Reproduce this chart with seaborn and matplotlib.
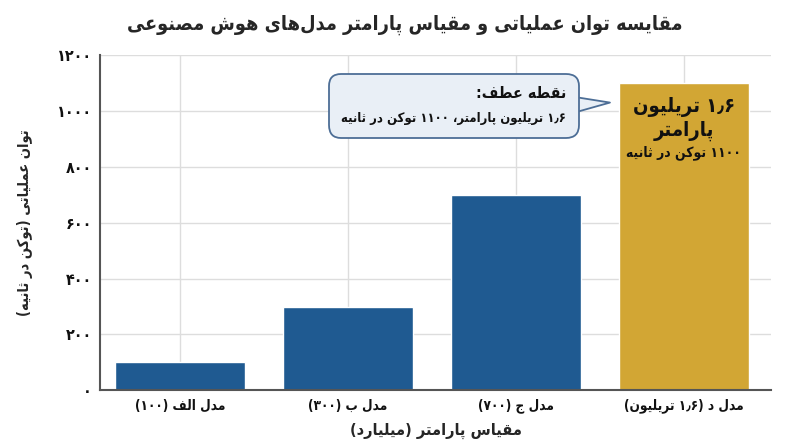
import re
import matplotlib
matplotlib.use("Agg")
import matplotlib.pyplot as plt
from matplotlib.offsetbox import TextArea, VPacker, AnnotationBbox
import seaborn as sns
import pandas as pd

# ---------------- data ----------------
categories = ["مدل الف (۱۰۰)", "مدل ب (۳۰۰)", "مدل ج (۷۰۰)", "مدل د (۱٫۶ تریلیون)"]
throughput = [100, 300, 700, 1100]
y_ticks = [0, 200, 400, 600, 800, 1000, 1200]
title_text = "مقایسه توان عملیاتی و مقیاس پارامتر مدل‌های هوش مصنوعی"
xlabel_text = "مقیاس پارامتر (میلیارد)"
ylabel_text = "توان عملیاتی (توکن در ثانیه)"
callout_title = "نقطه عطف:"
callout_body = "۱٫۶ تریلیون پارامتر، ۱۱۰۰ توکن در ثانیه"
bar_label_lines = ["۱٫۶ تریلیون", "پارامتر", "۱۱۰۰ توکن در ثانیه"]

# ---------------- minimal Arabic/Persian shaping + RTL ordering ----------------
FORMS = {  # isolated, final, initial, medial
    '\u0627': ('\uFE8D', '\uFE8E', None, None),
    '\u0622': ('\uFE81', '\uFE82', None, None),
    '\u0628': ('\uFE8F', '\uFE90', '\uFE91', '\uFE92'),
    '\u067E': ('\uFB56', '\uFB57', '\uFB58', '\uFB59'),
    '\u062A': ('\uFE95', '\uFE96', '\uFE97', '\uFE98'),
    '\u062B': ('\uFE99', '\uFE9A', '\uFE9B', '\uFE9C'),
    '\u062C': ('\uFE9D', '\uFE9E', '\uFE9F', '\uFEA0'),
    '\u0686': ('\uFB7A', '\uFB7B', '\uFB7C', '\uFB7D'),
    '\u062D': ('\uFEA1', '\uFEA2', '\uFEA3', '\uFEA4'),
    '\u062E': ('\uFEA5', '\uFEA6', '\uFEA7', '\uFEA8'),
    '\u062F': ('\uFEA9', '\uFEAA', None, None),
    '\u0630': ('\uFEAB', '\uFEAC', None, None),
    '\u0631': ('\uFEAD', '\uFEAE', None, None),
    '\u0632': ('\uFEAF', '\uFEB0', None, None),
    '\u0698': ('\uFB8A', '\uFB8B', None, None),
    '\u0633': ('\uFEB1', '\uFEB2', '\uFEB3', '\uFEB4'),
    '\u0634': ('\uFEB5', '\uFEB6', '\uFEB7', '\uFEB8'),
    '\u0635': ('\uFEB9', '\uFEBA', '\uFEBB', '\uFEBC'),
    '\u0636': ('\uFEBD', '\uFEBE', '\uFEBF', '\uFEC0'),
    '\u0637': ('\uFEC1', '\uFEC2', '\uFEC3', '\uFEC4'),
    '\u0638': ('\uFEC5', '\uFEC6', '\uFEC7', '\uFEC8'),
    '\u0639': ('\uFEC9', '\uFECA', '\uFECB', '\uFECC'),
    '\u063A': ('\uFECD', '\uFECE', '\uFECF', '\uFED0'),
    '\u0641': ('\uFED1', '\uFED2', '\uFED3', '\uFED4'),
    '\u0642': ('\uFED5', '\uFED6', '\uFED7', '\uFED8'),
    '\u06A9': ('\uFB8E', '\uFB8F', '\uFB90', '\uFB91'),
    '\u06AF': ('\uFB92', '\uFB93', '\uFB94', '\uFB95'),
    '\u0644': ('\uFEDD', '\uFEDE', '\uFEDF', '\uFEE0'),
    '\u0645': ('\uFEE1', '\uFEE2', '\uFEE3', '\uFEE4'),
    '\u0646': ('\uFEE5', '\uFEE6', '\uFEE7', '\uFEE8'),
    '\u0648': ('\uFEED', '\uFEEE', None, None),
    '\u0647': ('\uFEE9', '\uFEEA', '\uFEEB', '\uFEEC'),
    '\u06CC': ('\uFBFC', '\uFBFD', '\uFBFE', '\uFBFF'),
    '\u0629': ('\uFE93', '\uFE94', None, None),
}


def _dual(c):
    return c in FORMS and FORMS[c][2] is not None


def shape(s):
    out = []
    n = len(s)
    i = 0
    while i < n:
        c = s[i]
        if c not in FORMS:
            if c != '\u200c':
                out.append(c)
            i += 1
            continue
        prev = s[i - 1] if i > 0 else ''
        nxt = s[i + 1] if i + 1 < n else ''
        jp = _dual(prev)
        if c == '\u0644' and nxt == '\u0627':
            out.append('\uFEFC' if jp else '\uFEFB')
            i += 2
            continue
        jn = _dual(c) and nxt in FORMS
        iso, fin, ini, med = FORMS[c]
        if jp and jn:
            out.append(med)
        elif jp:
            out.append(fin)
        elif jn:
            out.append(ini)
        else:
            out.append(iso)
        i += 1
    return ''.join(out)


MIRROR = {'(': ')', ')': '(', '[': ']', ']': '['}
NUM = re.compile(r'[0-9\u06F0-\u06F9]+(?:[\u066B,.][0-9\u06F0-\u06F9]+)*')


def fa(s):
    s = shape(s)
    tokens = []
    pos = 0
    for m in NUM.finditer(s):
        for ch in s[pos:m.start()]:
            tokens.append(MIRROR.get(ch, ch))
        tokens.append(m.group())
        pos = m.end()
    for ch in s[pos:]:
        tokens.append(MIRROR.get(ch, ch))
    return ''.join(reversed(tokens))


def fa_digits(v):
    return str(v).translate(str.maketrans('0123456789', '۰۱۲۳۴۵۶۷۸۹'))


# ---------------- plot ----------------
sns.set_theme(style="whitegrid")
plt.rcParams['font.family'] = ['DejaVu Sans']
plt.rcParams['font.weight'] = 'bold'
plt.rcParams['font.stretch'] = 'condensed'

df = pd.DataFrame({"model": [fa(c) for c in categories], "value": throughput})
blue = "#1f5a91"
gold = "#d2a634"
palette = [blue, blue, blue, gold]

fig, ax = plt.subplots(figsize=(8, 4.47), dpi=100)
fig.subplots_adjust(left=0.125, right=0.964, top=0.876, bottom=0.127)

sns.barplot(data=df, x="model", y="value", hue="model", palette=palette,
            legend=False, width=0.774, saturation=1, ax=ax, zorder=2)

ax.set_xlim(-0.476, 3.52)
ax.set_ylim(0, 1200)
ax.set_yticks(y_ticks)
ax.set_yticklabels([fa_digits(v) for v in y_ticks], fontsize=11.5, fontweight='bold')
for lab in ax.get_xticklabels():
    lab.set_fontsize(9.8)
    lab.set_fontweight('bold')

ax.grid(True, axis='both', color='#dddddd', linewidth=1)
ax.set_axisbelow(True)
for side in ['top', 'right']:
    ax.spines[side].set_visible(False)
for side in ['left', 'bottom']:
    ax.spines[side].set_color('#555555')
    ax.spines[side].set_linewidth(1.5)
ax.tick_params(axis='both', length=0, pad=6, colors='#111111')

ax.set_xlabel(fa(xlabel_text), fontsize=11.7, fontweight='bold', labelpad=7)
ax.set_ylabel(fa(ylabel_text), fontsize=10.5, fontweight='bold', labelpad=17)
fig.suptitle(fa(title_text), fontsize=14.2, fontweight='bold', x=0.506, y=0.968)

# labels inside the highlighted bar
hx = 3
ax.text(hx, 1015, fa(bar_label_lines[0]), ha='center', va='center', fontsize=14.5, fontweight='bold', color='#111111')
ax.text(hx, 928, fa(bar_label_lines[1]), ha='center', va='center', fontsize=14.5, fontweight='bold', color='#111111')
ax.text(hx, 853, fa(bar_label_lines[2]), ha='center', va='center', fontsize=10, fontweight='bold', color='#111111')

# callout bubble
bubble_fc = "#e9eff6"
bubble_ec = "#4d6e96"
t_area = TextArea(fa(callout_title), textprops=dict(fontsize=11.5, fontweight='bold', color='#111111'))
b_area = TextArea(fa(callout_body), textprops=dict(fontsize=9.4, fontweight='bold', color='#111111'))
pack = VPacker(children=[t_area, b_area], align='right', pad=0, sep=8)
callout = AnnotationBbox(pack, xy=(2.56, 1031), xycoords='data',
                         xybox=(2.30, 1020), boxcoords='data',
                         box_alignment=(1.0, 0.5), fontsize=10,
                         bboxprops=dict(boxstyle="round,pad=0.9,rounding_size=0.9",
                                        fc=bubble_fc, ec=bubble_ec, lw=1.3),
                         arrowprops=dict(arrowstyle="wedge,tail_width=1.2,shrink_factor=0.5",
                                         fc=bubble_fc, ec=bubble_ec, lw=1.3,
                                         shrinkA=0, shrinkB=0, patchA=None,
                                         relpos=(0.96, 0.5)),
                         zorder=5)
ax.add_artist(callout)

fig.savefig("out.png", dpi=100)
